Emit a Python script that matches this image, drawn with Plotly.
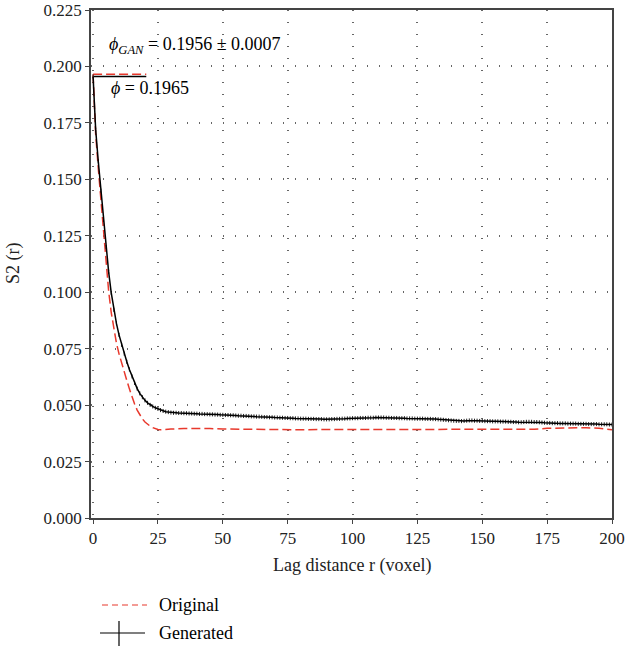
import plotly.graph_objects as go

# ---------------- data ----------------
lag_gen = list(range(0, 201))
s2_gen = [
    0.1956, 0.1720, 0.1580, 0.1450, 0.1320, 0.1200, 0.1090, 0.0997, 0.0922, 0.0862,
    0.0811, 0.0767, 0.0728, 0.0692, 0.0658, 0.0627, 0.0598, 0.0573, 0.0552, 0.0535,
    0.0521, 0.0510, 0.0501, 0.0494, 0.0488, 0.0483, 0.0478, 0.0474, 0.0471, 0.0469,
    0.0467,
    0.0466, 0.0466, 0.0465, 0.0465, 0.0464, 0.0464, 0.0463, 0.0463, 0.0462, 0.0462,
    0.0461, 0.0461, 0.0460, 0.0460, 0.0459, 0.0459, 0.0458, 0.0458, 0.0457, 0.0457,
    0.0456, 0.0456, 0.0455, 0.0455, 0.0454, 0.0453, 0.0453, 0.0452, 0.0452, 0.0451,
    0.0450, 0.0450, 0.0449, 0.0449, 0.0448, 0.0447, 0.0447, 0.0446, 0.0446, 0.0445,
    0.0445, 0.0444, 0.0444, 0.0443, 0.0443, 0.0442, 0.0442, 0.0441, 0.0441, 0.0440,
    0.0440, 0.0440, 0.0439, 0.0439, 0.0439, 0.0438, 0.0438, 0.0438, 0.0437, 0.0437,
    0.0437, 0.0438, 0.0438, 0.0439, 0.0439, 0.0440, 0.0440, 0.0441, 0.0441, 0.0442,
    0.0442, 0.0442, 0.0443, 0.0443, 0.0443, 0.0444, 0.0444, 0.0444, 0.0445, 0.0445,
    0.0445, 0.0445, 0.0444, 0.0444, 0.0443, 0.0443, 0.0443, 0.0442, 0.0442, 0.0442,
    0.0441, 0.0441, 0.0441, 0.0440, 0.0440, 0.0440, 0.0440, 0.0439, 0.0439, 0.0439,
    0.0438, 0.0438, 0.0437, 0.0436, 0.0435, 0.0434, 0.0433, 0.0432, 0.0431, 0.0430,
    0.0430, 0.0429, 0.0430, 0.0431, 0.0432, 0.0432, 0.0431, 0.0431, 0.0430, 0.0430,
    0.0429, 0.0429, 0.0429, 0.0428, 0.0428, 0.0428, 0.0427, 0.0427, 0.0427, 0.0426,
    0.0426, 0.0425, 0.0425, 0.0424, 0.0424, 0.0425, 0.0426, 0.0426, 0.0426, 0.0425,
    0.0425, 0.0424, 0.0423, 0.0422, 0.0421, 0.0421, 0.0420, 0.0420, 0.0420, 0.0419,
    0.0419, 0.0419, 0.0418, 0.0418, 0.0418, 0.0418, 0.0417, 0.0417, 0.0417, 0.0417,
    0.0416, 0.0416, 0.0416, 0.0416, 0.0415, 0.0415, 0.0415, 0.0415, 0.0414, 0.0414,
]
gen_error = 0.0009

lag_orig = list(range(0, 31)) + [35, 40, 45, 50, 55, 60, 70, 80, 90, 100, 110, 120,
                                 130, 140, 150, 160, 165, 170, 175, 180, 185, 190, 195, 200]
s2_orig = [
    0.1965, 0.1700, 0.1550, 0.1410, 0.1265, 0.1125, 0.1005, 0.0910, 0.0835, 0.0775,
    0.0727, 0.0685, 0.0646, 0.0609, 0.0572, 0.0537, 0.0505, 0.0478, 0.0456, 0.0439,
    0.0425, 0.0415, 0.0407, 0.0400, 0.0395, 0.0392, 0.0391, 0.0391, 0.0392, 0.0393,
    0.0394,
    0.0396, 0.0397, 0.0396, 0.0394, 0.0393, 0.0392, 0.0391, 0.0391, 0.0392, 0.0392,
    0.0392, 0.0392, 0.0392, 0.0392, 0.0392, 0.0391, 0.0392, 0.0393, 0.0397, 0.0399,
    0.0400, 0.0400, 0.0397, 0.0391,
]

phi_orig = 0.1965
phi_gan = 0.1956
phi_gan_err = 0.0007
phi_line_x = [0, 20.5]

x_ticks = [0, 25, 50, 75, 100, 125, 150, 175, 200]
y_ticks = [0.000, 0.025, 0.050, 0.075, 0.100, 0.125, 0.150, 0.175, 0.200, 0.225]
y_tick_labels = ["0.000", "0.025", "0.050", "0.075", "0.100", "0.125", "0.150",
                 "0.175", "0.200", "0.225"]

RED = "#e8382c"
FONT = "Liberation Serif"

fig = go.Figure()

# porosity reference lines
fig.add_trace(go.Scatter(x=phi_line_x, y=[phi_orig, phi_orig], mode="lines",
                         line=dict(color=RED, width=1.5, dash="9px,4px"),
                         showlegend=False, hoverinfo="skip"))
fig.add_trace(go.Scatter(x=phi_line_x, y=[phi_gan, phi_gan], mode="lines",
                         line=dict(color="black", width=1.5),
                         showlegend=False, hoverinfo="skip"))

fig.add_trace(go.Scatter(x=lag_orig, y=s2_orig, mode="lines", name="Original",
                         line=dict(color=RED, width=1.5, dash="9px,4px"),
                         showlegend=False))
fig.add_trace(go.Scatter(x=lag_gen, y=s2_gen, mode="lines", name="Generated",
                         line=dict(color="black", width=1.5),
                         error_y=dict(type="constant", value=gen_error, width=0,
                                      thickness=1, color="#222"),
                         showlegend=False))

# annotations
fig.add_annotation(x=5.4, y=0.2092, xref="x", yref="y", xanchor="left", yanchor="middle",
                   showarrow=False,
                   text=f"<i>ϕ</i><sub><i>GAN</i></sub> = {phi_gan:.4f} ± {phi_gan_err:.4f}",
                   font=dict(family=FONT, size=18, color="black"))
fig.add_annotation(x=6.2, y=0.1905, xref="x", yref="y", xanchor="left", yanchor="middle",
                   showarrow=False,
                   text=f"<i>ϕ</i> = {phi_orig:.4f}",
                   font=dict(family=FONT, size=18, color="black"))


def px_x(p):
    return (p - 91) / 521.0


def px_y(p):
    return (518 - p) / 508.0


# axis titles
fig.add_annotation(x=px_x(352), y=px_y(565), xref="paper", yref="paper",
                   xanchor="center", yanchor="middle", showarrow=False,
                   text="Lag distance r (voxel)",
                   font=dict(family=FONT, size=18, color="#222"))
fig.add_annotation(x=px_x(13), y=px_y(263), xref="paper", yref="paper",
                   xanchor="center", yanchor="middle", showarrow=False, textangle=-90,
                   text="S2 (r)",
                   font=dict(family=FONT, size=18, color="#222"))

# manual legend (below plot)
fig.add_shape(type="line", xref="paper", yref="paper",
              x0=px_x(102), x1=px_x(147), y0=px_y(605), y1=px_y(605),
              line=dict(color=RED, width=1.2, dash="6px,4px"))
fig.add_shape(type="line", xref="paper", yref="paper",
              x0=px_x(100), x1=px_x(145), y0=px_y(633), y1=px_y(633),
              line=dict(color="black", width=1.2))
fig.add_shape(type="line", xref="paper", yref="paper",
              x0=px_x(119), x1=px_x(119), y0=px_y(621), y1=px_y(646),
              line=dict(color="black", width=1.2))
fig.add_annotation(x=px_x(157), y=px_y(605), xref="paper", yref="paper",
                   xanchor="left", yanchor="middle", showarrow=False, text="Original",
                   font=dict(family=FONT, size=18, color="black"))
fig.add_annotation(x=px_x(157), y=px_y(633), xref="paper", yref="paper",
                   xanchor="left", yanchor="middle", showarrow=False, text="Generated",
                   font=dict(family=FONT, size=18, color="black"))

axis_common = dict(
    showline=True, linecolor="#444", linewidth=1.5, mirror=True,
    ticks="outside", ticklen=4, tickcolor="#444", tickwidth=1,
    showgrid=True, gridcolor="#666", gridwidth=1.5, griddash="1px,11px",
    zeroline=False, automargin=False,
    tickfont=dict(family=FONT, size=17, color="#222"),
)

fig.update_xaxes(range=[-0.8, 200], tickvals=x_ticks, **axis_common)
fig.update_yaxes(range=[0, 0.225], tickvals=y_ticks, ticktext=y_tick_labels, **axis_common)

fig.update_layout(
    width=626, height=647,
    margin=dict(l=91, r=14, t=10, b=129),
    plot_bgcolor="white", paper_bgcolor="white",
    showlegend=False,
    font=dict(family=FONT),
)

fig.write_html("out.html")
